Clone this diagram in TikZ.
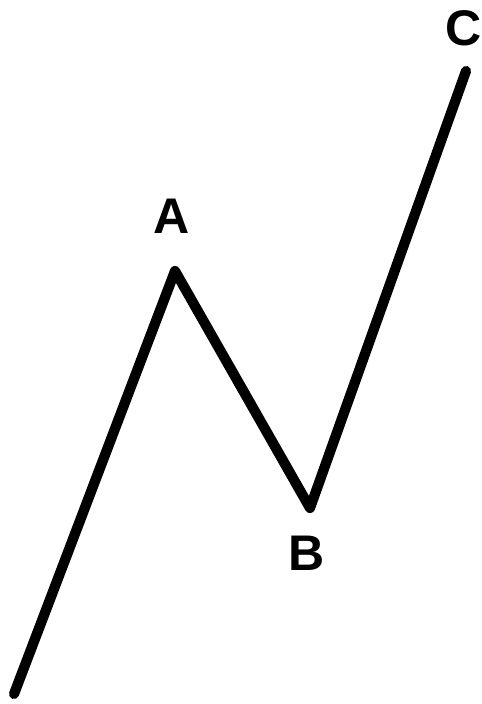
\documentclass[tikz,border=0pt]{standalone}
\usepackage{fontspec}
\setmainfont{Liberation Sans}
\usepackage{tikz}

\begin{document}
\begin{tikzpicture}[x=0.02cm,y=-0.02cm,font=\fontsize{28.5}{30}\selectfont\bfseries]
            \useasboundingbox (0,0) rectangle (481,704);
            \coordinate (start) at (14,694);
            \coordinate (pA) at (175,271);
            \coordinate (pB) at (310,508);
            \coordinate (pC) at (466,71);
            \draw[line width=5.8pt,line cap=round,line join=round] (start) -- (pA) -- (pB) -- (pC);
            \node (labA) at (172,216) {A};
            \node (labB) at (307,553) {B};
            \node (labC) at (464,28) {C};
        \end{tikzpicture}
\end{document}
